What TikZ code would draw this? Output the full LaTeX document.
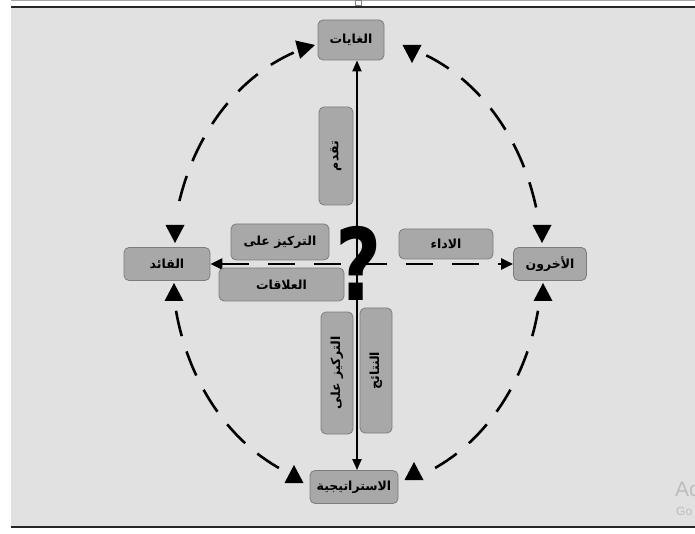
\documentclass[tikz,border=0pt]{standalone}
\usepackage{fontspec}
\setmainfont{Liberation Sans}
\newfontfamily\arabicfont[Script=Arabic]{DejaVu Sans}
\newfontfamily\markfont{DejaVu Sans}
\TeXXeTstate=1
\usetikzlibrary{arrows.meta}

\definecolor{canvas}{HTML}{E1E1E1}
\definecolor{boxfill}{HTML}{A8A8A8}
\definecolor{boxline}{HTML}{7C7C7C}
\definecolor{faint}{HTML}{BDBDBD}

\tikzset{
  x=1pt, y=1pt,
  labelbox/.style={draw=boxline, fill=boxfill, rounded corners=5pt,
    line width=0.8pt, inner sep=0pt,
    font=\arabicfont\bfseries\fontsize{12.5}{14}\selectfont},
  ring/.style={line width=2.6pt, dash pattern=on 26pt off 16pt, black},
  crossline/.style={line width=2.6pt, dash pattern=on 27pt off 19pt, black},
  axisline/.style={line width=2pt, black},
  head/.pic={\fill[black] (0,0) -- (-18,9.5) -- (-18,-9.5) -- cycle;},
}

\begin{document}
\begin{tikzpicture}
  \useasboundingbox (0,0) rectangle (695,533);

  % sheet and frame
  \fill[canvas] (11,6) rectangle (695,526);
  \draw[line width=0.8pt, gray!70] (11,532.6) -- (695,532.6);
  \draw[line width=2.4pt, black!85] (11,526) -- (695,526);
  \draw[line width=2.4pt, black!85] (11,6) -- (695,6);
  \draw[gray, fill=white, line width=0.6pt] (355,528) rectangle (361,533);

  % centre of the ring
  \coordinate (o) at (357,269);

  % corner nodes
  \node[labelbox, minimum width=66, minimum height=40] (goals) at (351,493) {\beginR الغايات\endR};
  \node[labelbox, minimum width=86, minimum height=33] (leader) at (167,269) {\beginR القائد\endR};
  \node[labelbox, minimum width=73, minimum height=33] (others) at (550,269) {\beginR الأخرون\endR};
  \node[labelbox, minimum width=88, minimum height=33] (strategy) at (354,46) {\beginR الاستراتيجية\endR};

  % cross of arrows
  \draw[axisline, {Triangle[length=11pt,width=9pt]}-{Triangle[length=11pt,width=9pt]}]
    (o |- goals.south) -- (o |- strategy.north);
  \draw[crossline, {Triangle[length=12pt,width=11pt]}-{Triangle[length=12pt,width=11pt]}]
    (leader.east) -- (others.west);

  % labels along the cross
  \node[labelbox, minimum width=98, minimum height=34, rotate=90] (advance) at (336,377) {\beginR تقدم\endR};
  \node[labelbox, minimum width=98, minimum height=36] (focusA) at (280,291) {\beginR التركيز على\endR};
  \node[labelbox, minimum width=125, minimum height=33] (relations) at (281.5,248.5) {\beginR العلاقات\endR};
  \node[labelbox, minimum width=94, minimum height=30] (performance) at (446,289) {\beginR الاداء\endR};
  \node[labelbox, minimum width=122, minimum height=32, rotate=90] (focusB) at (337,160) {\beginR التركيز على\endR};
  \node[labelbox, minimum width=125, minimum height=32, rotate=90] (results) at (376,162.5) {\beginR النتائج\endR};

  % question mark at the crossing
  \node[font=\markfont\bfseries\fontsize{100}{100}\selectfont, xscale=0.8, inner sep=0pt] (question) at (359,270) {?};

  % dashed ring, one arc per quarter
  \draw[ring] (o) ++(110:185 and 225) arc[start angle=110, end angle=166, x radius=185, y radius=225];
  \draw[ring] (o) ++(68:185 and 225) arc[start angle=68, end angle=11, x radius=185, y radius=225];
  \draw[ring] (o) ++(192:185 and 225) arc[start angle=192, end angle=246, x radius=185, y radius=225];
  \draw[ring] (o) ++(348:185 and 225) arc[start angle=348, end angle=294, x radius=185, y radius=225];

  % arrow heads on the ring
  \pic[rotate=15] at (315,488) {head};
  \pic[rotate=-90] at (175,290) {head};
  \pic[rotate=-90] at (412,470) {head};
  \pic[rotate=-90] at (542,290) {head};
  \pic[rotate=90] at (174,250) {head};
  \pic[rotate=90] at (294,68) {head};
  \pic[rotate=90] at (414,71) {head};
  \pic[rotate=90] at (543,250) {head};

  % faint system text at the lower right edge
  \node[anchor=west, text=faint, font=\fontsize{21}{21}\selectfont, inner sep=0pt] (sysA) at (675,44) {Ac};
  \node[anchor=west, text=faint, font=\fontsize{12}{12}\selectfont, inner sep=0pt] (sysB) at (676,22) {Go};
\end{tikzpicture}
\end{document}
